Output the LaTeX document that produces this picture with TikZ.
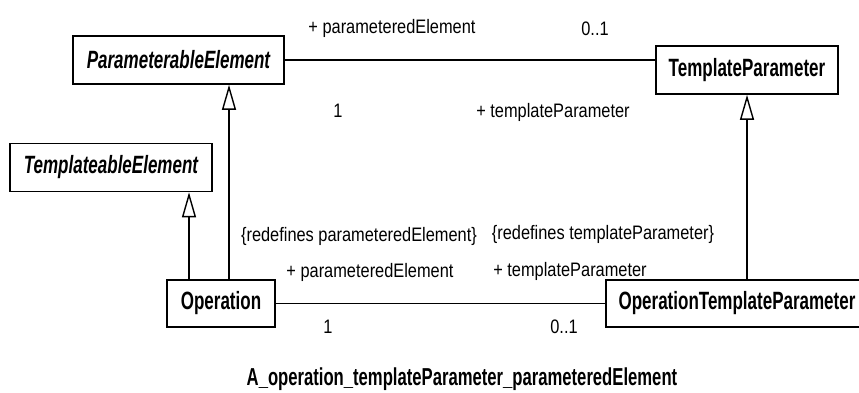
\documentclass[tikz,border=0pt]{standalone}
\usepackage{fontspec}
\setmainfont{Liberation Sans}[FakeStretch=0.84]
\newfontfamily\classfont{Liberation Sans}[FakeStretch=0.68]
\usetikzlibrary{arrows.meta,positioning}

\begin{document}
\begin{tikzpicture}[
  x=1pt, y=-1pt,
  cls/.style={draw, line width=1.6pt, minimum height=48pt, inner sep=0pt,
    font=\classfont\bfseries\fontsize{25}{28}\selectfont},
  abstr/.style={cls, font=\classfont\bfseries\itshape\fontsize{25}{28}\selectfont},
  role/.style={inner sep=0pt, anchor=base, font=\fontsize{19.5}{22}\selectfont},
  assoc/.style={line width=1.4pt},
  gen/.style={line width=1.4pt, -{Triangle[open,length=25pt,width=14pt,fill=white]}},
]
\useasboundingbox (0,0) rectangle (859,392);

% classes
\node[abstr, minimum width=211pt] (PE) at (178.5,60) {ParameterableElement};
\node[abstr, minimum width=202pt] (TE) at (111,167.5) {TemplateableElement};
\node[cls, minimum width=182pt] (TP) at (747,70) {TemplateParameter};
\node[cls, minimum width=108pt, minimum height=47pt] (Op) at (221,303.5) {Operation};
\node[cls, minimum width=262pt, minimum height=47pt] (OTP) at (737,303.5) {OperationTemplateParameter};

% associations
\draw[assoc] (PE.east) -- (PE.east -| TP.west);
\draw[assoc] (Op.east) -- (OTP.west);

% generalizations
\draw[gen] ([xshift=-32pt]Op.north) -- ([xshift=-32pt]Op.north |- TE.south);
\draw[gen] ([xshift=8pt]Op.north) -- ([xshift=8pt]Op.north |- PE.south);
\draw[gen] (OTP.north -| TP.south) -- (TP.south);

% ends
\node[role] (pe1) at (392,33) {+ parameteredElement};
\node[role] (m1) at (595,35) {0..1};
\node[role] (m2) at (338,117) {1};
\node[role] (tp1) at (553,117) {+ templateParameter};
\node[role] (rd1) at (359,241) {\{redefines parameteredElement\}};
\node[role] (rd2) at (603,239) {\{redefines templateParameter\}};
\node[role] (pe2) at (370,277) {+ parameteredElement};
\node[role] (tp2) at (570,276) {+ templateParameter};
\node[role] (m3) at (328,333) {1};
\node[role] (m4) at (564,333) {0..1};

\node[anchor=base, font=\classfont\bfseries\fontsize{24.5}{28}\selectfont] (cap) at (462,385)
  {A\_operation\_templateParameter\_parameteredElement};
\end{tikzpicture}
\end{document}
